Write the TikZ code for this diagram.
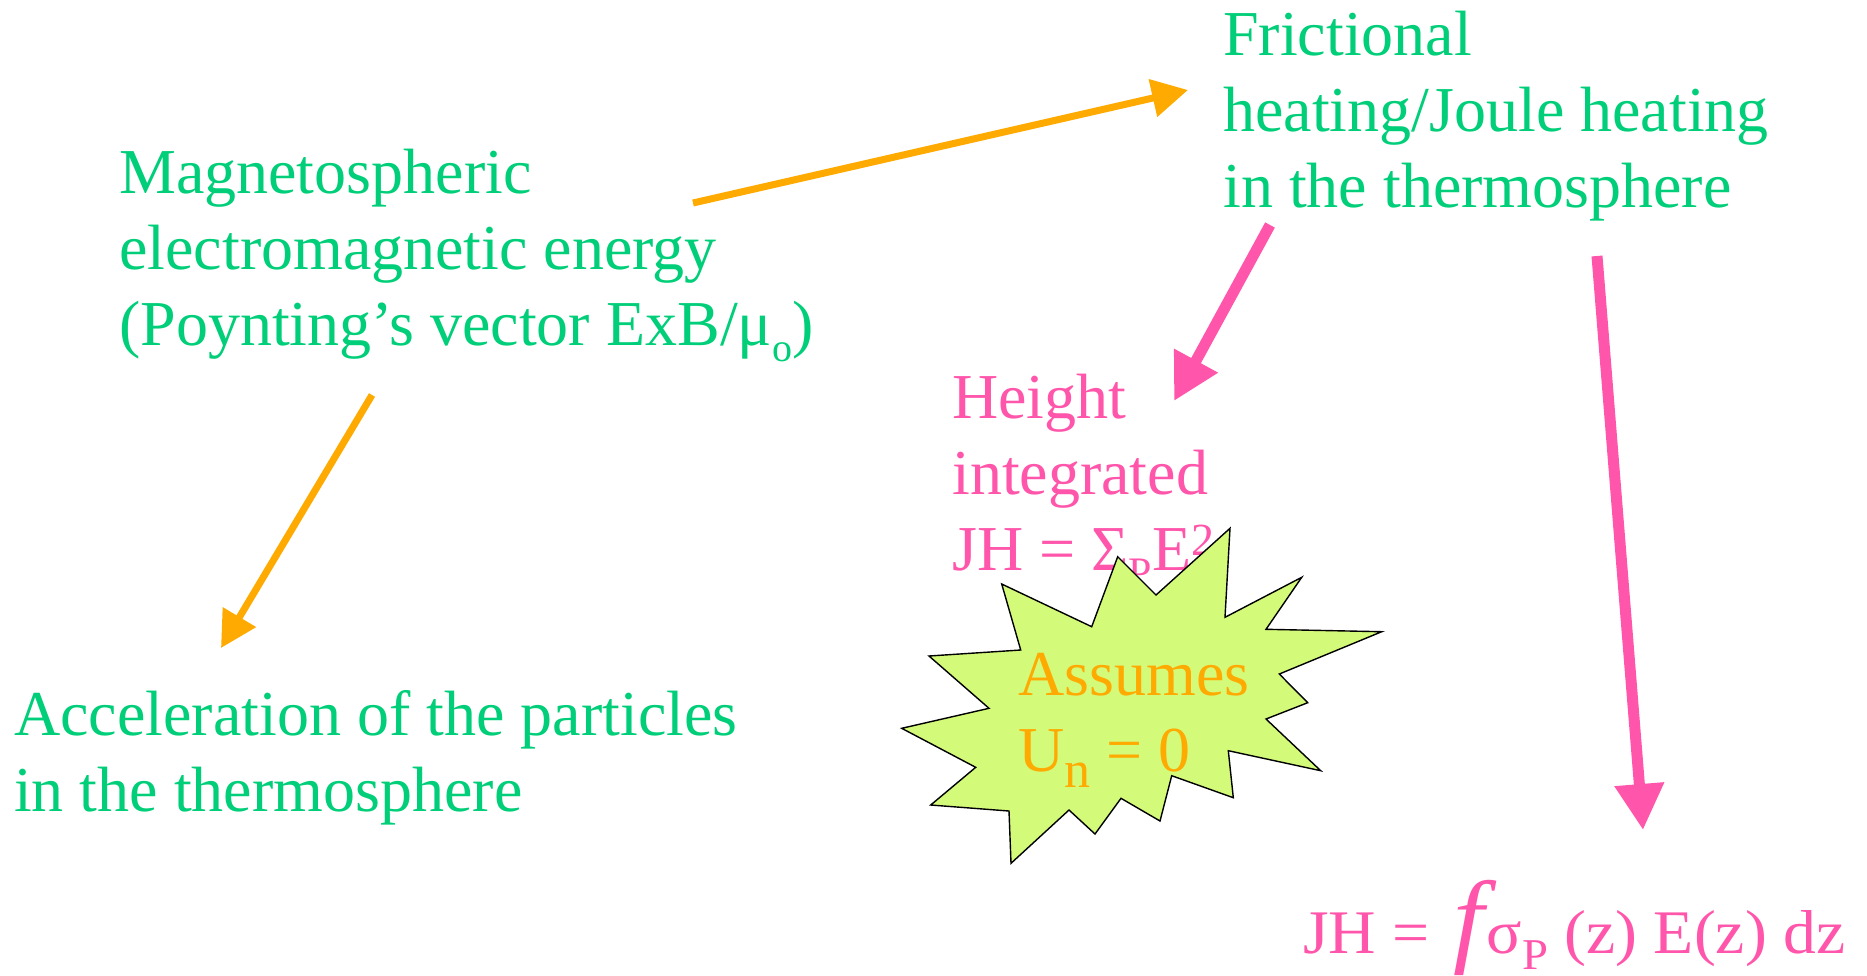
\documentclass[tikz,border=0pt]{standalone}
\usepackage{fontspec}
\setmainfont{Liberation Serif}
\usetikzlibrary{arrows.meta}
\definecolor{tgreen}{RGB}{0,206,120}
\definecolor{tpink}{RGB}{255,85,170}
\definecolor{torange}{RGB}{255,170,0}
\definecolor{burst}{RGB}{212,250,122}
\newcommand{\stk}[1]{\begin{tabular}[t]{@{}l@{}}#1\end{tabular}}
\newcommand{\lowsub}[2][42]{\raisebox{-16pt}{\fontsize{#1}{#1}\selectfont #2}}
\begin{document}
\begin{tikzpicture}[x=1pt,y=-1pt,
  txt/.style={anchor=base west, inner sep=0pt, font=\fontsize{64}{76}\selectfont},
  oarrow/.style={draw=torange, line width=7pt, -{Triangle[length=36pt,width=37pt]}, torange},
  parrow/.style={draw=tpink, line width=11pt, -{Triangle[length=46pt,width=47pt]}, tpink},
  burststyle/.style={fill=burst, draw=black, line width=1.4pt, line join=miter}]
\useasboundingbox (0,0) rectangle (1867,975);
% text nodes
\node[txt, text=tgreen] (mag) at (119,193) {\stk{Magnetospheric\\electromagnetic energy\\(Poynting’s vector ExB/μ\lowsub[40]{o})}};
\node[txt, text=tgreen] (fric) at (1223,55) {\stk{Frictional\\heating/Joule heating\\in the thermosphere}};
\node[txt, text=tgreen] (accel) at (14,735) {\stk{Acceleration of the particles\\in the thermosphere}};
\node[txt, text=tpink] (height) at (952,418) {\stk{Height\\integrated\\JH = Σ\lowsub{P}E\raisebox{15pt}{\fontsize{46}{46}\selectfont 2}}};
% starburst
\draw[burststyle] (1230,528.3) -- (1225,617.3) -- (1301.7,577.3) -- (1266,629.3) -- (1381.7,631.7)
  -- (1279.3,674) -- (1307.7,702.7) -- (1266,719) -- (1320.7,770.7) -- (1228.3,750.7)
  -- (1233.3,797.7) -- (1171.7,775.7) -- (1160,821) -- (1121,798.3) -- (1095,834)
  -- (1069,810) -- (1011,863.3) -- (1009,811) -- (930.7,805) -- (975.7,767.3)
  -- (901.7,728.3) -- (989,708.3) -- (929,656) -- (1020.7,650) -- (1001.7,584)
  -- (1091.7,626.7) -- (1117.7,556.7) -- (1156,595) -- cycle;
\node[txt, text=torange] (assume) at (1018,695) {\stk{Assumes\\U\lowsub[52]{n} = 0}};
\node[txt, text=tpink, font=\fontsize{62}{72}\selectfont\addfontfeatures{FakeStretch=1.06}] (jh) at (1303,953) {JH = \hspace{7pt}{\fontsize{104}{104}\selectfont\itshape f}\hspace{3pt}σ\lowsub[44]{P} (z) E(z) dz};
% connectors
\coordinate (a1s) at (693,203);
\coordinate (a1e) at (1188,90);
\coordinate (a2s) at (372,395);
\coordinate (a2e) at (221,648);
\coordinate (a3s) at (1270,225);
\coordinate (a3e) at (1174,401);
\coordinate (a4s) at (1597,256);
\coordinate (a4e) at (1643,830);
\draw[oarrow] (a1s) -- (a1e);
\draw[oarrow] (a2s) -- (a2e);
\draw[parrow] (a3s) -- (a3e);
\draw[parrow] (a4s) -- (a4e);
\end{tikzpicture}
\end{document}
